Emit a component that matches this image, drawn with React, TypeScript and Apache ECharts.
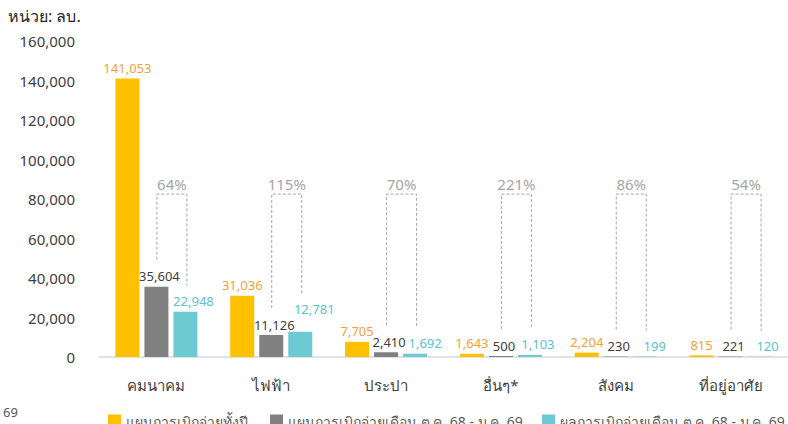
import React, { useEffect, useRef } from "react";
import * as echarts from "echarts";

const categories = ["คมนาคม", "ไฟฟ้า", "ประปา", "อื่นๆ*", "สังคม", "ที่อยู่อาศัย"];
const planYear = [141053, 31036, 7705, 1643, 2204, 815];
const planMonth = [35604, 11126, 2410, 500, 230, 221];
const actualMonth = [22948, 12781, 1692, 1103, 199, 120];
const percents = ["64%", "115%", "70%", "221%", "86%", "54%"];
const yTicks = { min: 0, max: 160000, interval: 20000 };
const bracketTop = 82500;
const seriesNames = [
  "แผนการเบิกจ่ายทั้งปี",
  "แผนการเบิกจ่ายเดือน ต.ค. 68 - ม.ค. 69",
  "ผลการเบิกจ่ายเดือน ต.ค. 68 - ม.ค. 69",
];
const unitLabel = "หน่วย: ลบ.";

const FONT = "'Noto Sans', Tahoma, sans-serif";
const BAR_W = 24;
const GAP = 5;
// extra vertical lift (px) of the cyan value labels, per category
const CYAN_LIFT = [0, 12, 0, 0, 0, 0];
const CYAN_DX = [8, 14, 10, 8, 10, 8];

export default function App() {
  const ref = useRef<HTMLDivElement>(null);
  useEffect(() => {
    const chart = echarts.init(ref.current!, null, { renderer: "svg" });
    const fmt = (p: any) => Number(p.value).toLocaleString("en-US");
    const labelCfg = (color: string, dx: number) => ({
      show: true,
      position: "top",
      distance: 4,
      offset: [dx, 0],
      formatter: fmt,
      color,
      fontSize: 13,
      fontFamily: FONT,
    });
    const bracketData = categories.map((_, i) => [i, planMonth[i], actualMonth[i], percents[i]]);
    const cyanData = actualMonth.map((v, i) => ({
      value: v,
      label: { offset: [CYAN_DX[i], -CYAN_LIFT[i]] },
    }));
    chart.setOption({
      animation: false,
      grid: { left: 99, top: 41, bottom: 67, width: 702 },
      legend: [0, 1, 2].map((k) => ({
        data: [seriesNames[k]],
        left: [103, 265, 537][k],
        top: 409,
        itemWidth: 13,
        itemHeight: 13,
        icon: "rect",
        textStyle: { color: "#595959", fontSize: 14, fontFamily: FONT },
      })),
      xAxis: {
        type: "category",
        data: categories,
        axisLine: { lineStyle: { color: "#d9d9d9", width: 1.5 } },
        axisTick: { show: false },
        axisLabel: { color: "#404040", fontSize: 15, fontFamily: FONT, margin: 20 },
      },
      yAxis: {
        type: "value",
        min: yTicks.min,
        max: yTicks.max,
        interval: yTicks.interval,
        splitLine: { show: false },
        axisLine: { show: false },
        axisLabel: {
          color: "#404040",
          fontSize: 15,
          fontFamily: FONT,
          margin: 24,
          formatter: (v: number) => v.toLocaleString("en-US"),
        },
      },
      graphic: [
        { type: "text", left: 8, top: 8, style: { text: unitLabel, fontSize: 16, fill: "#262626", fontFamily: FONT } },
        { type: "text", left: 3, top: 405, style: { text: "69", fontSize: 13, fill: "#595959", fontFamily: FONT } },
      ],
      series: [
        {
          name: seriesNames[0],
          type: "bar",
          data: planYear,
          barWidth: BAR_W,
          barGap: (GAP / BAR_W) * 100 + "%",
          itemStyle: { color: "#FFC000" },
          label: labelCfg("#F4A236", 0),
        },
        {
          name: seriesNames[1],
          type: "bar",
          data: planMonth,
          barWidth: BAR_W,
          barGap: (GAP / BAR_W) * 100 + "%",
          itemStyle: { color: "#808080" },
          label: labelCfg("#404040", 3),
        },
        {
          name: seriesNames[2],
          type: "bar",
          data: cyanData,
          barWidth: BAR_W,
          barGap: (GAP / BAR_W) * 100 + "%",
          itemStyle: { color: "#6CCAD2" },
          label: labelCfg("#5BC3CD", 8),
        },
        {
          type: "custom",
          data: bracketData,
          silent: true,
          z: 1,
          renderItem: (params: any, api: any) => {
            const idx = api.value(0);
            const top = api.coord([idx, bracketTop]);
            const gTop = api.coord([idx, api.value(1)]);
            const cTop = api.coord([idx, api.value(2)]);
            const xL = top[0] + 0.5;
            const xR = top[0] + BAR_W + GAP + 1.5;
            const yT = top[1];
            const yL = gTop[1] - 27;
            const yR = cTop[1] - 26 - CYAN_LIFT[idx];
            const ls = { stroke: "#a6a6a6", lineWidth: 1, lineDash: [3, 2], fill: "none" };
            return {
              type: "group",
              children: [
                { type: "polyline", shape: { points: [[xL, yL], [xL, yT], [xR, yT], [xR, yR]] }, style: ls },
                {
                  type: "text",
                  x: (xL + xR) / 2,
                  y: yT - 3,
                  style: {
                    text: percents[idx],
                    fill: "#a6a6a6",
                    fontSize: 15,
                    fontFamily: FONT,
                    align: "center",
                    verticalAlign: "bottom",
                  },
                },
              ],
            };
          },
        },
      ],
    });
    return () => chart.dispose();
  }, []);
  return <div ref={ref} style={{ width: 788, height: 424, position: "absolute", left: 0, top: 0 }} />;
}
